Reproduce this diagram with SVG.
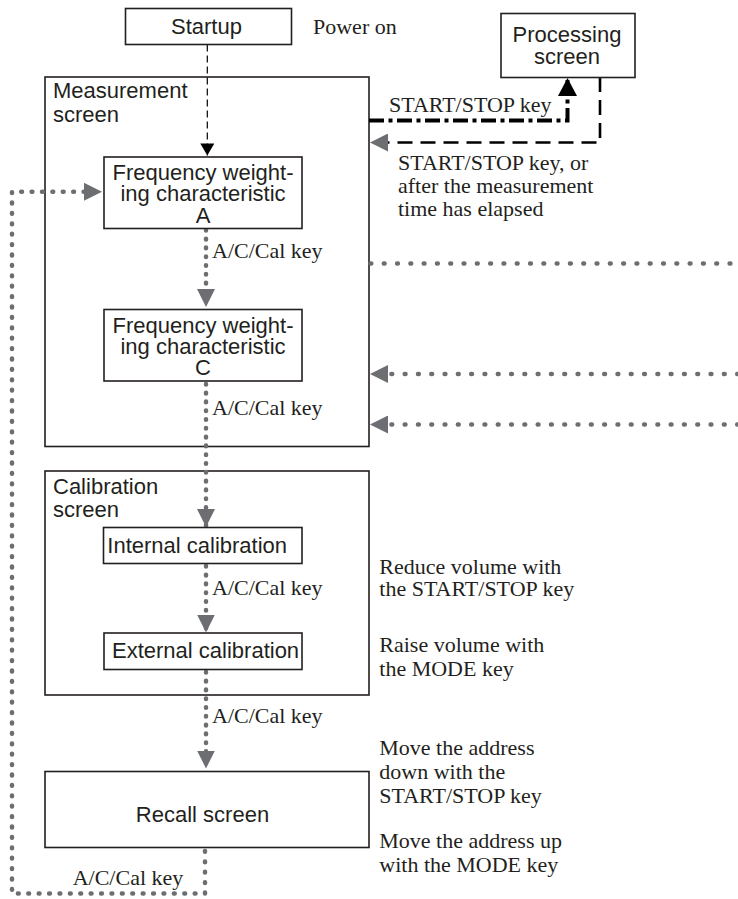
<svg xmlns="http://www.w3.org/2000/svg" width="738" height="899" viewBox="0 0 738 899">
<style>
.box{fill:#fff;stroke:#231f20;stroke-width:1.6}
.frame{fill:none;stroke:#231f20;stroke-width:1.6}
.sans{font-family:"Liberation Sans",Arial,sans-serif;font-size:22px;fill:#231f20}
.serif{font-family:"Liberation Serif","Times New Roman",serif;font-size:22px;fill:#231f20}
.mid{text-anchor:middle}
.dot{fill:none;stroke:#6d6e71;stroke-width:4.5;stroke-linecap:round;stroke-dasharray:0.6 8.2}
.doth{fill:none;stroke:#6d6e71;stroke-width:4.5;stroke-linecap:round;stroke-dasharray:0.8 12.5}
.dotl{fill:none;stroke:#6d6e71;stroke-width:4.5;stroke-linecap:round;stroke-dasharray:0.8 9.6}
</style>
<defs>
<marker id="ag" markerUnits="userSpaceOnUse" markerWidth="18" markerHeight="18" refX="17" refY="8.5" orient="auto" viewBox="0 0 17 17">
<path d="M0,0 L17,8.5 L0,17 Z" fill="#6d6e71"/>
</marker>
<marker id="ab" markerUnits="userSpaceOnUse" markerWidth="18" markerHeight="19" refX="17" refY="9" orient="auto" viewBox="0 0 17 18">
<path d="M0,0 L17,9 L0,18 Z" fill="#000"/>
</marker>
<marker id="abs" markerUnits="userSpaceOnUse" markerWidth="13" markerHeight="14" refX="12" refY="7" orient="auto" viewBox="0 0 12 14">
<path d="M0,0 L12,7 L0,14 Z" fill="#000"/>
</marker>
</defs>

<g id="measurement-screen">
<rect class="frame" x="45" y="77" width="324" height="369.5"/>
<text class="sans" x="53" y="97.5">Measurement</text>
<text class="sans" x="53" y="121.5">screen</text>
</g>
<g id="calibration-screen">
<rect class="frame" x="45" y="471" width="324" height="224"/>
<text class="sans" x="53" y="493.5">Calibration</text>
<text class="sans" x="53" y="516.5">screen</text>
</g>

<g id="connectors">
<path d="M207.3,44.5 V155.5" fill="none" stroke="#000" stroke-width="1.2" stroke-dasharray="7 4" marker-end="url(#abs)"/>
<path d="M369,120.5 H567.5 V78" fill="none" stroke="#000" stroke-width="4" stroke-dasharray="15 4.5 4 4.5" marker-end="url(#ab)"/>
<path d="M600,77 V142.5 H370" fill="none" stroke="#000" stroke-width="2.6" stroke-dasharray="15 8" marker-end="url(#ag)"/>
<path class="dot" d="M206,230 V307" marker-end="url(#ag)"/>
<path class="dot" d="M206,384 V527" marker-end="url(#ag)"/>
<path class="dot" d="M206,566 V632.5" marker-end="url(#ag)"/>
<path class="dot" d="M206,672 V768.5" marker-end="url(#ag)"/>
<path class="dotl" d="M205,851 V893.5 H12 V191.8 H102" marker-end="url(#ag)"/>
<path class="doth" d="M370.5,263.5 H738"/>
<path class="doth" d="M738,374 H370" marker-end="url(#ag)"/>
<path class="doth" d="M738,424.5 H370" marker-end="url(#ag)"/>
</g>

<g id="startup">
<rect class="box" x="125.5" y="8.5" width="166" height="36"/>
<text class="sans" x="171" y="34">Startup</text>
</g>
<g id="processing-screen">
<rect class="box" x="501" y="13.5" width="134" height="64"/>
<text class="sans mid" x="567" y="41.5">Processing</text>
<text class="sans mid" x="567" y="63.5">screen</text>
</g>
<g id="freq-a">
<rect class="box" x="104" y="157" width="198" height="71.5"/>
<text class="sans mid" x="203" y="180">Frequency weight-</text>
<text class="sans mid" x="203" y="201">ing characteristic</text>
<text class="sans mid" x="203" y="222.5">A</text>
</g>
<g id="freq-c">
<rect class="box" x="104" y="309.5" width="198" height="71.5"/>
<text class="sans mid" x="203" y="333.3">Frequency weight-</text>
<text class="sans mid" x="203" y="354">ing characteristic</text>
<text class="sans mid" x="203" y="375">C</text>
</g>
<g id="internal-calibration">
<rect class="box" x="103.5" y="527.5" width="198.5" height="36"/>
<text class="sans" x="107.3" y="553">Internal calibration</text>
</g>
<g id="external-calibration">
<rect class="box" x="104" y="633" width="198" height="36.5"/>
<text class="sans" x="112" y="658">External calibration</text>
</g>
<g id="recall-screen">
<rect class="box" x="45" y="771.5" width="324" height="76"/>
<text class="sans mid" x="202.5" y="821.7">Recall screen</text>
</g>

<g id="labels">
<text class="serif" x="313" y="34">Power on</text>
<text class="serif" x="389" y="111.7">START/STOP key</text>
<text class="serif" x="398" y="170">START/STOP key, or</text>
<text class="serif" x="398" y="193.3">after the measurement</text>
<text class="serif" x="398" y="216">time has elapsed</text>
<text class="serif" x="212" y="258.3">A/C/Cal key</text>
<text class="serif" x="212" y="415">A/C/Cal key</text>
<text class="serif" x="212" y="595">A/C/Cal key</text>
<text class="serif" x="212" y="723.3">A/C/Cal key</text>
<text class="serif" x="72.7" y="885">A/C/Cal key</text>
<text class="serif" x="379.3" y="574">Reduce volume with</text>
<text class="serif" x="379.3" y="596">the START/STOP key</text>
<text class="serif" x="379.3" y="652">Raise volume with</text>
<text class="serif" x="379.3" y="675.5">the MODE key</text>
<text class="serif" x="379.3" y="755">Move the address</text>
<text class="serif" x="379.3" y="779">down with the</text>
<text class="serif" x="379.3" y="803">START/STOP key</text>
<text class="serif" x="379.3" y="848">Move the address up</text>
<text class="serif" x="379.3" y="871.5">with the MODE key</text>
</g>
</svg>
